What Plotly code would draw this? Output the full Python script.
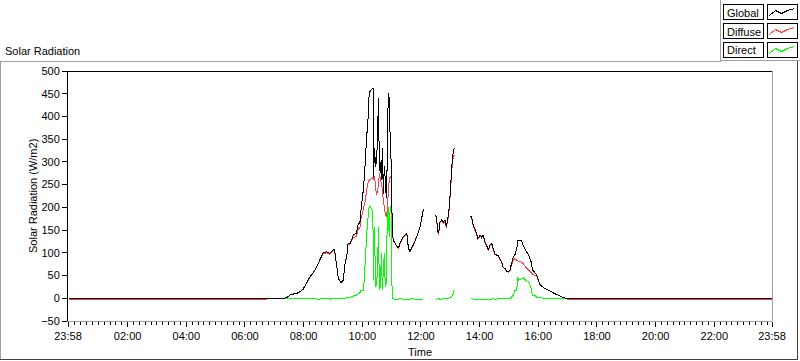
import plotly.graph_objects as go

# ---------------- data (minutes since midnight) ----------------
time_min = [0, 404, 405, 440, 446, 452, 458, 469, 479, 486, 493, 503, 510, 520, 527, 534, 539, 543,
            548, 551, 556, 561, 565, 568, 571, 575, 582, 588, 592, 595, 597, 602, 604, 606, 608, 610,
            612, 614, 617, 620, 622, 623, 625, 627, 629, 631, 633, 635, 637, 639, 641, 643, 645, 647,
            649, 651, 653, 655, 657, 659, 661, 663, 667, 674, 677, 683, 691, 694, 697, 704, 711, 718,
            725, 740,
            750, 752, 754, 756, 759, 762, 766, 769, 772, 775, 778, 781, 783, 786, 788, 800,
            822, 825, 827, 830, 834, 836, 841, 844, 847, 851, 854, 858, 861, 865, 868, 871, 875, 878,
            881, 885, 888, 892, 895, 899, 902, 905, 909, 912, 916, 918, 920, 925, 929, 934, 940, 944,
            946, 948, 952, 957, 961, 964, 974, 984, 994, 1004, 1011, 1017, 1022, 1438]

global_rad = [0, 0, 0, 0, 2, 7, 9, 12, 20, 34, 47, 62, 77, 100, 102, 99, 106, 108,
              69, 44, 34, 40, 80, 91, 121, 121, 139, 143, 165, 165, 190, 238, 265, 300, 340, 370,
              400, 451, 458, 460, 462, 267, 330, 290, 300, 350, 440, 280, 300, 260, 330, 230, 290, 260,
              220, 300, 452, 440, 350, 300, 172, 128, 121, 110, 121, 135, 143, 113, 102, 117, 135, 157,
              196, None,
              183, 176, 150, 143, 168, 172, 168, 172, 158, 176, 201, 253, 289, 322, 330, None,
              181, 172, 161, 153, 142, 131, 139, 135, 139, 124, 117, 106, 117, 120, 109, 98, 95, 95,
              87, 80, 69, 65, 60, 58, 62, 76, 91, 95, 109, 128, 128, 128, 117, 106, 95, 84,
              78, 62, 58, 51, 36, 29, 21, 16, 10, 5, 2, 0, 0, 0]

diffuse_rad = [-3, -3, 0, 0, 2, 7, 9, 12, 20, 33, 46, 61, 76, 98, 100, 97, 104, 107,
               68, 44, 34, 40, 79, 90, 119, 119, 134, 136, 155, 153, 172, 194, 205, 215, 230, 245,
               255, 260, 262, 264, 267, 260, 269, 245, 227, 235, 250, 275, 260, 253, 240, 216, 200, 185,
               179, 194, 230, 260, 267, 267, 172, 128, 121, 109, 119, 133, 141, 112, 102, 116, 134, 156,
               195, None,
               181, 174, 148, 140, 166, 170, 165, 169, 155, 173, 197, 247, 282, 310, 315, None,
               179, 170, 158, 150, 140, 129, 137, 133, 137, 122, 115, 105, 115, 118, 107, 97, 94, 94,
               86, 79, 68, 64, 59, 57, 60, 72, 84, 87, 84, 82, 80, 80, 76, 69, 62, 58,
               56, 53, 51, 48, 36, 29, 21, 16, 10, 5, 2, 0, -3, -3]

direct_rad = [0, 0, 0, 0, -1, -1, -1, -1, -1, -1, -1, -1, -2, -1, 0, -2, 0, 0,
              -1, 0, -1, 0, 0, 1, 2, 2, 5, 7, 10, 12, 18, 18, 40, 84, 120, 157,
              180, 201, 201, 194, 150, 40, 157, 25, 30, 60, 157, 18, 25, 99, 18, 60, 99, 25,
              33, 172, 201, 135, 201, 201, 3, -1, -2, -2, -1, -2, -2, -3, -2, -1, -3, -2,
              -2, None,
              -2, -2, -1, -1, -2, -2, -1, -1, 0, 0, 1, 2, 3, 11, 18, None,
              -1, -1, -2, -2, -2, -3, -2, -3, -3, -2, -3, -2, -2, -2, -1, -2, -2, -1,
              -1, -1, -1, -1, -1, -1, -1, 3, 7, 18, 18, 47, 40, 43, 45, 40, 36, 26,
              18, 7, 7, 2, 1, 1, 0, 0, 0, 0, 0, 0, 0, 0]

series_names = ["Global", "Diffuse", "Direct"]
series_colors = ["#000000", "#ff4040", "#00ff00"]

x_tick_vals = [-2, 120, 240, 360, 480, 600, 720, 840, 960, 1080, 1200, 1320, 1438]
x_tick_text = ["23:58", "02:00", "04:00", "06:00", "08:00", "10:00", "12:00",
               "14:00", "16:00", "18:00", "20:00", "22:00", "23:58"]
y_tick_vals = [-50, 0, 50, 100, 150, 200, 250, 300, 350, 400, 450, 500]

FONT = "Liberation Sans"
W, H = 800, 361
L, R, T, B = 68, 28, 71, 40
PW, PH = W - L - R, H - T - B


def PX(x):
    return (x - L) / PW


def PY(y):
    return (H - B - y) / PH


fig = go.Figure()
series_vals = [global_rad, diffuse_rad, direct_rad]
for idx in [2, 1, 0]:
    fig.add_trace(go.Scatter(x=time_min, y=series_vals[idx], mode="lines",
                             name=series_names[idx],
                             line=dict(color=series_colors[idx], width=1, simplify=False),
                             connectgaps=False, showlegend=False, hoverinfo="skip"))

shapes = []
annotations = []

# plot area borders
shapes.append(dict(type="line", xref="paper", yref="paper", x0=0, x1=1, y0=1, y1=1,
                   line=dict(color="black", width=1)))
shapes.append(dict(type="line", xref="paper", yref="paper", x0=1, x1=1, y0=0, y1=1,
                   line=dict(color="#a0a0a0", width=1)))

# outer panel (3D-ish border)
shapes.append(dict(type="line", xref="paper", yref="paper", x0=PX(0), x1=PX(721), y0=PY(61.5), y1=PY(61.5),
                   line=dict(color="#a0a0a0", width=1)))
shapes.append(dict(type="line", xref="paper", yref="paper", x0=PX(0.5), x1=PX(0.5), y0=PY(61.5), y1=PY(360),
                   line=dict(color="#a0a0a0", width=1)))
shapes.append(dict(type="line", xref="paper", yref="paper", x0=PX(0), x1=PX(798), y0=PY(359.5), y1=PY(359.5),
                   line=dict(color="#404040", width=1)))
shapes.append(dict(type="line", xref="paper", yref="paper", x0=PX(797.5), x1=PX(797.5), y0=PY(61), y1=PY(360),
                   line=dict(color="#404040", width=1)))
# legend panel
shapes.append(dict(type="line", xref="paper", yref="paper", x0=PX(720.5), x1=PX(720.5), y0=PY(0), y1=PY(61),
                   line=dict(color="#a0a0a0", width=1)))
shapes.append(dict(type="line", xref="paper", yref="paper", x0=PX(720.5), x1=PX(800), y0=PY(60.5), y1=PY(60.5),
                   line=dict(color="#a0a0a0", width=1)))

# legend rows
row_tops = [4.5, 23.5, 42.5]
zig = [(2, 11), (8, 6), (14, 9), (20, 6), (27, 4)]
for name, color, top in zip(series_names, series_colors, row_tops):
    shapes.append(dict(type="rect", xref="paper", yref="paper",
                       x0=PX(723.5), x1=PX(763.5), y0=PY(top), y1=PY(top + 15),
                       line=dict(color="black", width=1), fillcolor="white"))
    shapes.append(dict(type="rect", xref="paper", yref="paper",
                       x0=PX(767.5), x1=PX(797.5), y0=PY(top), y1=PY(top + 15),
                       line=dict(color="black", width=1), fillcolor="white"))
    path = "M " + " L ".join(f"{PX(767.5 + dx)},{PY(top + dy)}" for dx, dy in zig)
    shapes.append(dict(type="path", xref="paper", yref="paper", path=path,
                       line=dict(color=color, width=1)))
    annotations.append(dict(xref="paper", yref="paper", x=PX(725), y=PY(top + 8),
                            xanchor="left", yanchor="middle", text=name, showarrow=False,
                            font=dict(family=FONT, size=11, color="black")))

# titles
annotations.append(dict(xref="paper", yref="paper", x=PX(3), y=PY(51), xanchor="left", yanchor="middle",
                        text="Solar Radiation", showarrow=False,
                        font=dict(family=FONT, size=11, color="black")))
annotations.append(dict(xref="paper", yref="paper", x=PX(33), y=0.5, xanchor="center", yanchor="middle",
                        text="Solar Radiation (W/m2)", textangle=-90, showarrow=False,
                        font=dict(family=FONT, size=11, color="black")))
annotations.append(dict(xref="paper", yref="paper", x=0.5, y=PY(352), xanchor="center", yanchor="middle",
                        text="Time", showarrow=False,
                        font=dict(family=FONT, size=11, color="black")))

fig.update_layout(
    width=W, height=H,
    margin=dict(l=L, r=R, t=T, b=B, pad=0),
    paper_bgcolor="white", plot_bgcolor="white",
    showlegend=False,
    shapes=shapes, annotations=annotations,
    xaxis=dict(range=[-2, 1438], tickmode="array", tickvals=x_tick_vals, ticktext=x_tick_text,
               showgrid=False, zeroline=False, showline=True, linecolor="#a0a0a0", linewidth=1,
               ticks="outside", ticklen=5, tickcolor="black", tickwidth=1,
               tickfont=dict(family=FONT, size=11, color="black"),
               minor=dict(tick0=0, dtick=12, ticks="outside", ticklen=3, tickcolor="black", showgrid=False)),
    yaxis=dict(range=[-50, 500], tickmode="array", tickvals=y_tick_vals,
               showgrid=False, zeroline=False, showline=True, linecolor="black", linewidth=1,
               ticks="outside", ticklen=5, tickcolor="black", tickwidth=1,
               tickfont=dict(family=FONT, size=11, color="black")),
)

post = """
document.body.style.margin='0px';
document.body.style.overflow='hidden';
function crisp(){
  document.querySelectorAll('.scatterlayer path, .shapelayer path').forEach(function(p){
    p.style.shapeRendering='crispEdges';
  });
}
crisp(); setTimeout(crisp, 50); setTimeout(crisp, 300);
"""
fig.write_html("out.html", config={"displayModeBar": False}, post_script=post)
